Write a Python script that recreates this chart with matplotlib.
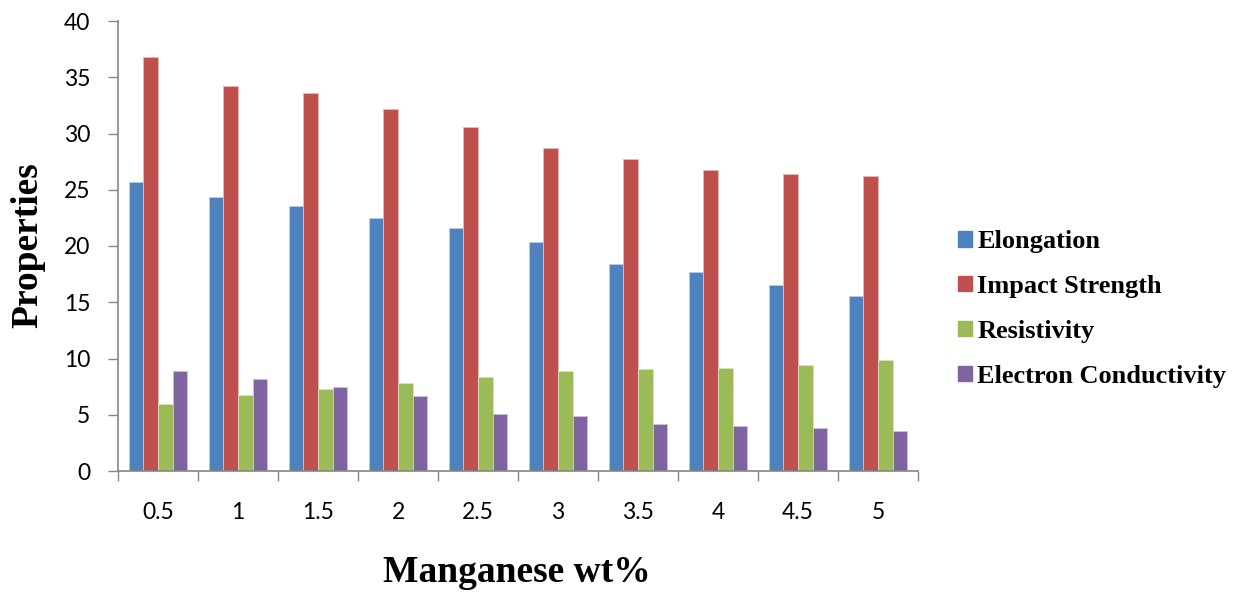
import matplotlib
matplotlib.use("Agg")
import matplotlib.pyplot as plt
import numpy as np
from matplotlib.patches import Patch

categories = ["0.5", "1", "1.5", "2", "2.5", "3", "3.5", "4", "4.5", "5"]
elongation = [25.7, 24.4, 23.6, 22.5, 21.6, 20.4, 18.4, 17.7, 16.5, 15.6]
impact_strength = [36.8, 34.2, 33.6, 32.2, 30.6, 28.75, 27.7, 26.8, 26.4, 26.25]
resistivity = [6.0, 6.8, 7.3, 7.8, 8.35, 8.85, 9.1, 9.2, 9.45, 9.9]
electron_conductivity = [8.85, 8.15, 7.45, 6.7, 5.1, 4.9, 4.15, 4.0, 3.8, 3.6]
series_names = ["Elongation", "Impact Strength", "Resistivity", "Electron Conductivity"]
yticks = [0, 5, 10, 15, 20, 25, 30, 35, 40]

colors = ["#4F81BD", "#C0504D", "#9BBB59", "#8064A2"]
edges = ["#B9CDE5", "#E6B9B8", "#D7E4BD", "#CCC1DA"]

fig = plt.figure(figsize=(12.41, 5.93), dpi=100)
ax = fig.add_axes([118 / 1241, 1 - 471 / 593, 800 / 1241, 450 / 593])

x = np.arange(len(categories))
width = 0.182
data = [elongation, impact_strength, resistivity, electron_conductivity]
for i, (vals, c, ec) in enumerate(zip(data, colors, edges)):
    ax.bar(x + (i - 1.5) * width, vals, width, color=c, edgecolor=ec,
           linewidth=0.6, zorder=2)

ax.set_xlim(-0.5, len(categories) - 0.5)
ax.set_ylim(0, 40)
ax.set_yticks(yticks)
ax.set_yticklabels([str(t) for t in yticks], fontfamily="Lato", fontsize=16.5)
ax.set_xticks(x)
ax.set_xticklabels(categories, fontfamily="Lato", fontsize=16.5)
ax.set_xticks(np.arange(len(categories) + 1) - 0.5, minor=True)
ax.tick_params(axis="x", which="major", length=0, pad=22)
ax.tick_params(axis="x", which="minor", length=7, width=1, color="#868686", direction="out")
ax.tick_params(axis="y", length=7, width=1, color="#868686", direction="out", pad=13)

for s in ["top", "right"]:
    ax.spines[s].set_visible(False)
for s in ["left", "bottom"]:
    ax.spines[s].set_color("#868686")
    ax.spines[s].set_linewidth(1.2)

fig.text(28 / 1241, 1 - 245 / 593, "Properties", rotation=90, ha="center", va="center",
         fontfamily="Liberation Serif", fontweight="bold", fontsize=27)
fig.text(517 / 1241, 1 - 573 / 593, "Manganese wt%", ha="center", va="center",
         fontfamily="Liberation Serif", fontweight="bold", fontsize=27)

handles = [Patch(facecolor=c, edgecolor=c) for c in colors]
leg = fig.legend(handles, series_names, loc="center left",
                 bbox_to_anchor=(958 / 1241, 1 - 309 / 593), frameon=False,
                 prop={"family": "Liberation Serif", "weight": "bold", "size": 19},
                 handlelength=0.53, handleheight=0.53, handletextpad=0.2,
                 labelspacing=0.83, borderpad=0, borderaxespad=0)

fig.savefig("out.png", dpi=100, facecolor="white")
